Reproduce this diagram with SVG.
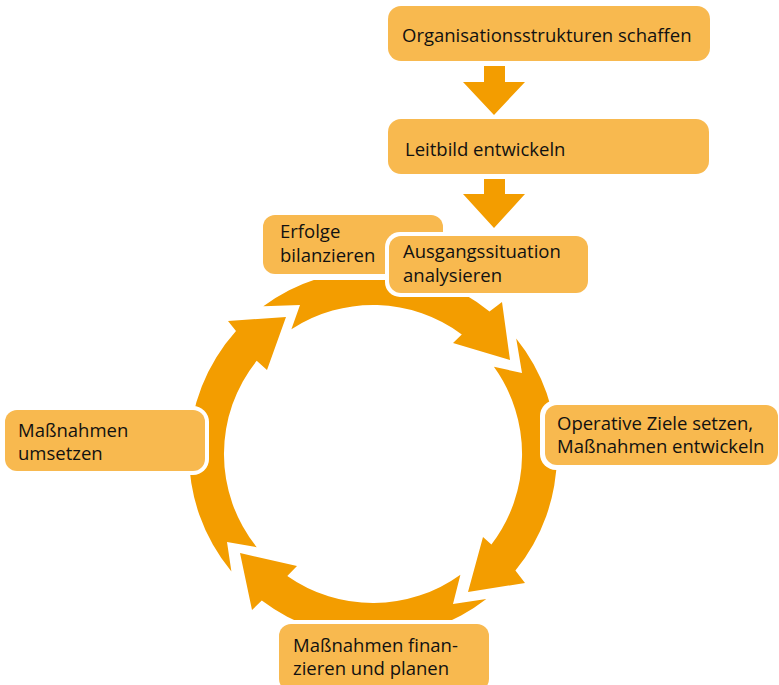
<svg xmlns="http://www.w3.org/2000/svg" width="779" height="685" viewBox="0 0 779 685">
  <style>
    .box { fill: #F8B94F; }
    .halo { fill: #FFFFFF; }
    .arrow { fill: #F39D00; }
    .lbl { font-family: "Open Sans", "Noto Sans", "Liberation Sans", sans-serif; font-size: 18.5px; fill: #111111; }
  </style>
  <rect width="779" height="685" fill="#FFFFFF"/>
  <g id="connectors">
    <polygon class="arrow" points="484,66 505,66 505,82 525,82 494,115 463,82 484,82"/>
    <polygon class="arrow" points="484,179 505,179 505,194 525,194 494,228 463,194 484,194"/>
    <path class="arrow" d="M263.3,306.3 A184,184 0 0 1 489.5,311.6 L502,302 L510,360 L453,343 L461.8,334.4 A149,149 0 0 0 291.4,329.3 L300,305 Z"/>
    <path class="arrow" d="M516.2,338.4 A184,184 0 0 1 515.4,570.5 L525,583 L468,592 L483,537 L491.4,544.5 A149,149 0 0 0 493.9,366.8 L522,373 Z"/>
    <path class="arrow" d="M486.3,599 A184,184 0 0 1 261.8,600.6 L252,610 L240,553 L297,566 L287.3,575.9 A149,149 0 0 0 460.4,574.7 L453,604 Z"/>
    <path class="arrow" d="M231.4,571.5 A184,184 0 0 1 236,331.1 L228,321 L286,317 L267,370 L256.7,360.8 A149,149 0 0 0 256.7,547.2 L227,542 Z"/>
  </g>
  <g id="node-organisation">
    <rect class="box" x="388" y="6" width="322" height="55" rx="13"/>
    <text class="lbl" x="402" y="42">Organisationsstrukturen schaffen</text>
  </g>
  <g id="node-leitbild">
    <rect class="box" x="388" y="119" width="321" height="55" rx="13"/>
    <text class="lbl" x="405" y="156">Leitbild entwickeln</text>
  </g>
  <g id="node-erfolge">
    <rect class="halo" x="260" y="212" width="186" height="68" rx="15"/>
    <rect class="box" x="263" y="215" width="180" height="59" rx="12"/>
    <text class="lbl" x="280" y="238">Erfolge</text>
    <text class="lbl" x="280" y="262">bilanzieren</text>
  </g>
  <g id="node-ausgang">
    <rect class="halo" x="385" y="232" width="207" height="65" rx="15"/>
    <rect class="box" x="389" y="236" width="199" height="57" rx="12"/>
    <text class="lbl" x="403" y="258">Ausgangssituation</text>
    <text class="lbl" x="403" y="282">analysieren</text>
  </g>
  <g id="node-operative">
    <rect class="halo" x="540" y="400" width="243" height="70" rx="16"/>
    <rect class="box" x="545" y="405" width="233" height="60" rx="12"/>
    <text class="lbl" x="557" y="430">Operative Ziele setzen,</text>
    <text class="lbl" x="557" y="453">Maßnahmen entwickeln</text>
  </g>
  <g id="node-umsetzen">
    <rect class="halo" x="1" y="406" width="208" height="69" rx="16"/>
    <rect class="box" x="5" y="410" width="200" height="61" rx="12"/>
    <text class="lbl" x="18" y="437">Maßnahmen</text>
    <text class="lbl" x="18" y="460">umsetzen</text>
  </g>
  <g id="node-finanzieren">
    <rect class="halo" x="275" y="620" width="218" height="75" rx="16"/>
    <rect class="box" x="279" y="624" width="210" height="67" rx="12"/>
    <text class="lbl" x="293" y="652">Maßnahmen finan-</text>
    <text class="lbl" x="293" y="675">zieren und planen</text>
  </g>
</svg>
